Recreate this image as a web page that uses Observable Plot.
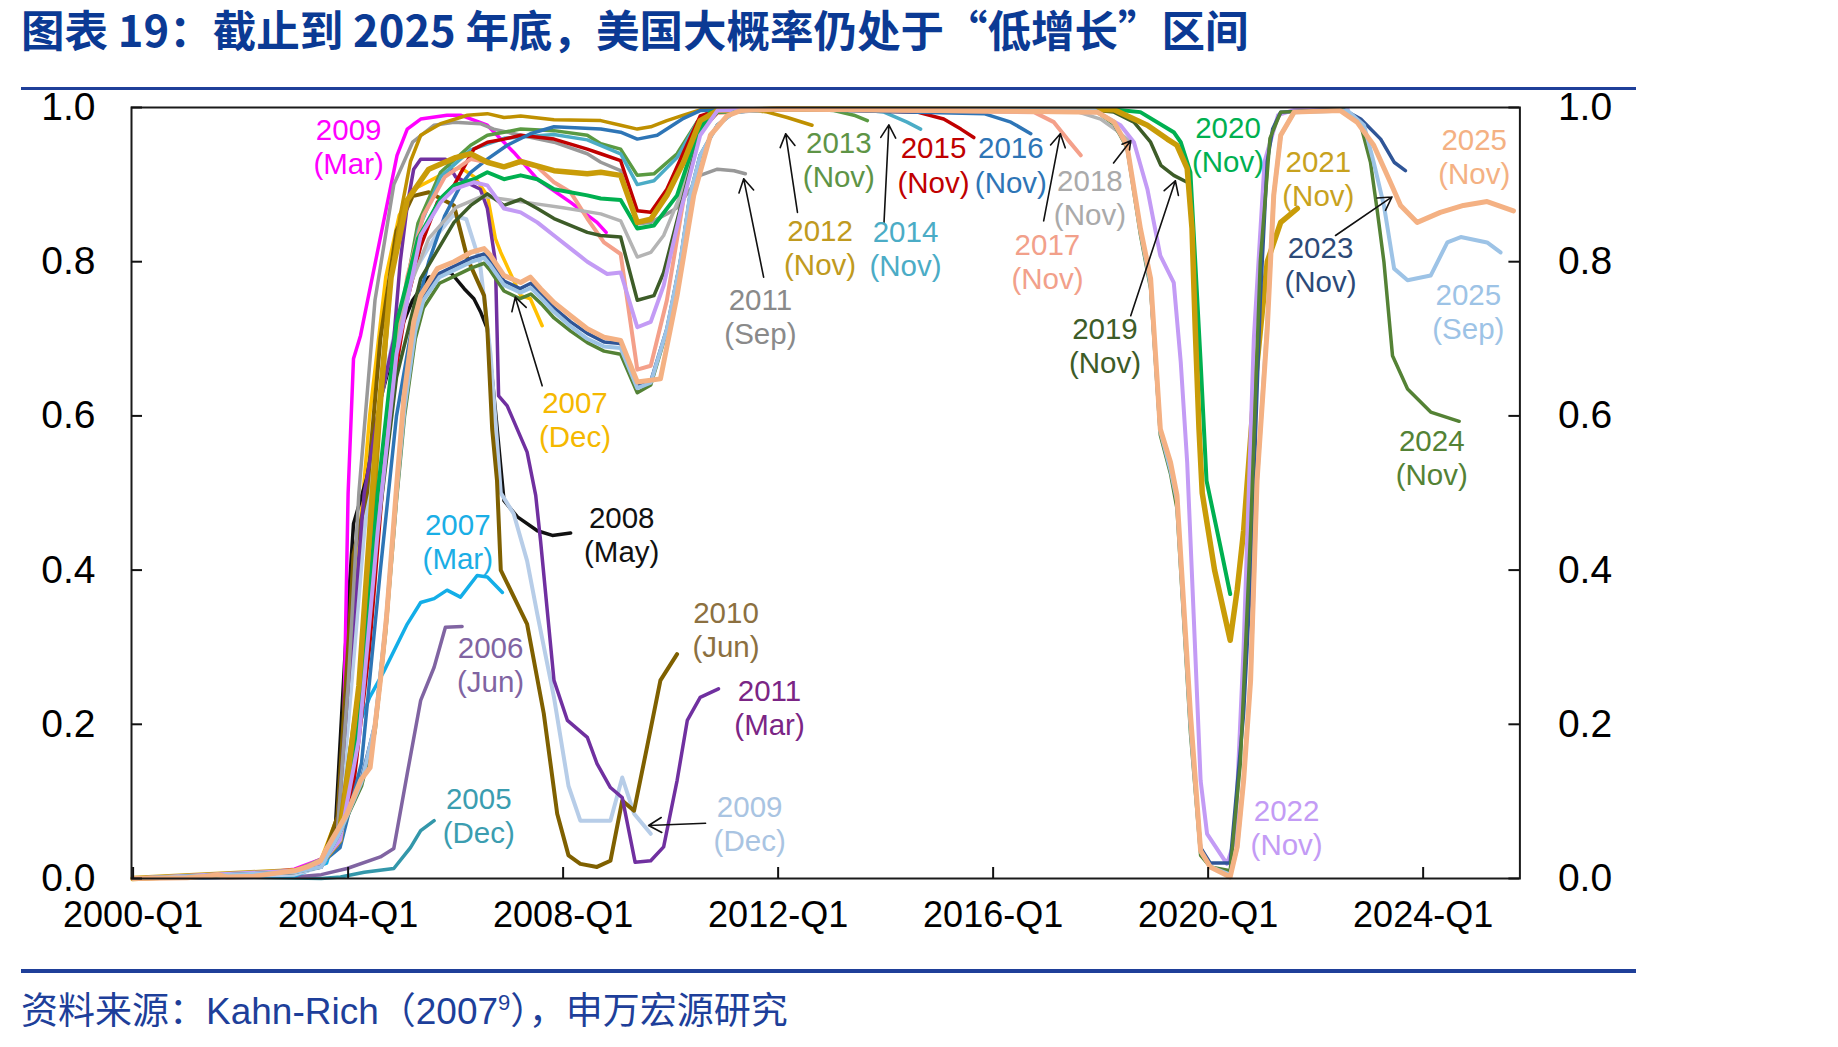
<!DOCTYPE html>
<html><head><meta charset="utf-8">
<script src="https://cdn.jsdelivr.net/npm/d3@7"></script>
<script src="https://cdn.jsdelivr.net/npm/@observablehq/plot@0.6"></script>
<style>
body{margin:0;background:#fff;width:1838px;height:1047px;position:relative;overflow:hidden;font-family:"Liberation Sans",Arial,sans-serif;}
#title{position:absolute;left:21px;top:0;height:58px;line-height:58px;font-family:"Noto Sans CJK SC",sans-serif;font-weight:700;font-size:43.5px;color:#0b3a94;white-space:nowrap;}
.rule{position:absolute;left:21px;width:1615px;height:3.5px;background:#1f3f99;}
#chart{position:absolute;left:0;top:92px;}
#chart svg{overflow:visible;}
#source{position:absolute;left:21px;top:988px;font-family:"Liberation Sans","Noto Sans CJK SC",sans-serif;font-size:37px;color:#1e3f9a;white-space:nowrap;line-height:48px;}
#source sup{font-size:22px;vertical-align:14px;line-height:0;}
</style></head><body>
<div id="title">图表 19：截止到 2025 年底，美国大概率仍处于“低增长”区间</div>
<div class="rule" style="top:86.5px"></div>
<div id="chart"></div>
<div class="rule" style="top:969px"></div>
<div id="source">资料来源：Kahn-Rich（2007<sup>9</sup>），申万宏源研究</div>
<script>
// ---------- tick values ----------
const xTicks = [2000, 2004, 2008, 2012, 2016, 2020, 2024];
const yTicks = [0, 0.2, 0.4, 0.6, 0.8, 1.0];

// ---------- series: [year (decimal, quarter), probability] ----------
const s2005Dec = [[2000,0],[2002,0.002],[2003.5,0.0],[2003.86,0.002],[2004.3,0.008],[2004.85,0.013],[2005.16,0.04],[2005.35,0.062],[2005.6,0.075]];
const s2006Jun = [[2000,0],[2003,0.002],[2003.5,0.005],[2003.98,0.013],[2004.6,0.028],[2004.85,0.039],[2005.1,0.136],[2005.35,0.231],[2005.6,0.274],[2005.81,0.326],[2006.12,0.327]];
const s2007Mar = [[2000,0],[2003,0.003],[2003.6,0.02],[2003.85,0.08],[2004.04,0.17],[2004.4,0.235],[2004.66,0.268],[2005.1,0.33],[2005.35,0.358],[2005.6,0.363],[2005.84,0.374],[2006.09,0.365],[2006.4,0.393],[2006.59,0.391],[2006.87,0.371]];
const s2007Dec = [[2000,0],[2003,0.01],[2003.5,0.025],[2003.8,0.08],[2004.1,0.35],[2004.4,0.6],[2004.7,0.78],[2004.95,0.86],[2005.22,0.894],[2005.66,0.91],[2005.91,0.918],[2006.09,0.922],[2006.35,0.91],[2006.59,0.886],[2006.74,0.83],[2006.84,0.812],[2007.21,0.756],[2007.39,0.752],[2007.61,0.717]];
const s2008May = [[2000,0],[2003,0.01],[2003.5,0.015],[2003.75,0.05],[2003.95,0.3],[2004.1,0.46],[2004.35,0.52],[2004.6,0.62],[2004.9,0.7],[2005.2,0.75],[2005.5,0.78],[2005.91,0.786],[2006.16,0.765],[2006.34,0.752],[2006.47,0.734],[2006.59,0.713],[2006.75,0.6],[2006.9,0.49],[2007.15,0.469],[2007.52,0.451],[2007.8,0.445],[2008.14,0.448]];
const s2009Mar = [[2000,0],[2002.5,0.008],[2003,0.012],[2003.5,0.025],[2003.8,0.04],[2003.92,0.2],[2004.0,0.5],[2004.1,0.674],[2004.23,0.704],[2004.91,0.938],[2005.1,0.972],[2005.35,0.985],[2005.84,0.99],[2006.09,0.99],[2006.59,0.977],[2007.08,0.942],[2007.52,0.907],[2008.14,0.877],[2008.63,0.851],[2008.8,0.838]];
const s2009Dec = [[2000,0],[2003,0.005],[2003.5,0.015],[2003.8,0.05],[2004.0,0.2],[2004.3,0.45],[2004.6,0.62],[2004.9,0.72],[2005.25,0.79],[2005.6,0.83],[2005.95,0.86],[2006.2,0.855],[2006.45,0.8],[2006.65,0.68],[2006.84,0.5],[2007.08,0.473],[2007.33,0.412],[2007.52,0.343],[2007.83,0.235],[2008.1,0.12],[2008.32,0.075],[2008.88,0.075],[2009.1,0.131],[2009.32,0.084],[2009.63,0.058]];
const s2010Jun = [[2000,0],[2003,0.008],[2003.5,0.02],[2003.8,0.08],[2004.0,0.3],[2004.1,0.42],[2004.35,0.5],[2004.6,0.7],[2004.9,0.84],[2005.2,0.885],[2005.5,0.89],[2005.97,0.873],[2006.22,0.804],[2006.53,0.756],[2006.59,0.713],[2006.68,0.583],[2006.77,0.516],[2006.84,0.4],[2007.33,0.33],[2007.64,0.214],[2007.89,0.084],[2008.1,0.03],[2008.32,0.019],[2008.63,0.015],[2008.88,0.023],[2009.1,0.101],[2009.32,0.088],[2009.56,0.17],[2009.81,0.257],[2010.12,0.291]];
const s2011Mar = [[2000,0],[2003,0.008],[2003.5,0.02],[2003.8,0.06],[2004.0,0.25],[2004.3,0.5],[2004.6,0.62],[2004.85,0.7],[2004.97,0.8],[2005.1,0.873],[2005.22,0.92],[2005.35,0.933],[2005.81,0.933],[2006.0,0.91],[2006.46,0.894],[2006.59,0.869],[2006.74,0.8],[2006.8,0.626],[2006.96,0.613],[2007.33,0.553],[2007.49,0.497],[2007.58,0.438],[2007.83,0.257],[2008.08,0.205],[2008.45,0.183],[2008.63,0.149],[2008.88,0.118],[2009.1,0.105],[2009.34,0.021],[2009.63,0.023],[2009.87,0.041],[2010.12,0.127],[2010.31,0.205],[2010.55,0.235],[2010.89,0.246]];
const s2011Sep = [[2000,0],[2003,0.01],[2003.5,0.025],[2003.8,0.06],[2004.0,0.25],[2004.2,0.5],[2004.5,0.75],[2004.85,0.9],[2005.2,0.955],[2005.6,0.977],[2005.97,0.981],[2006.46,0.979],[2006.71,0.972],[2007.21,0.964],[2007.83,0.955],[2008.45,0.94],[2008.7,0.929],[2009.07,0.918],[2009.38,0.849],[2009.63,0.851],[2009.93,0.862],[2010.12,0.87],[2010.55,0.912],[2010.87,0.92],[2011.18,0.918],[2011.39,0.914]];
const s2012Nov = [[2000,0],[2003,0.01],[2003.5,0.02],[2003.8,0.05],[2004.0,0.15],[2004.3,0.3],[2004.6,0.6],[2004.8,0.78],[2004.97,0.86],[2005.16,0.93],[2005.35,0.964],[2005.72,0.979],[2006.22,0.99],[2006.59,0.992],[2006.9,0.987],[2007.21,0.989],[2007.83,0.984],[2008.7,0.983],[2009.07,0.977],[2009.38,0.972],[2009.63,0.975],[2009.93,0.983],[2010.24,0.99],[2010.55,0.997],[2011.0,0.998],[2011.5,0.997],[2011.8,0.994],[2012.17,0.987],[2012.63,0.977]];
const s2013Nov = [[2000,0],[2003,0.01],[2003.5,0.02],[2003.85,0.05],[2004.1,0.15],[2004.5,0.45],[2004.9,0.7],[2005.3,0.85],[2005.72,0.916],[2006.28,0.951],[2006.59,0.964],[2006.9,0.968],[2007.21,0.972],[2007.83,0.97],[2008.45,0.964],[2008.7,0.953],[2009.07,0.946],[2009.38,0.912],[2009.69,0.914],[2010.12,0.94],[2010.49,0.981],[2010.74,0.996],[2011.5,0.998],[2012.5,0.998],[2013.04,0.996],[2013.41,0.99],[2013.66,0.983]];
const s2014Nov = [[2000,0],[2003,0.01],[2003.5,0.02],[2003.85,0.05],[2004.1,0.14],[2004.5,0.42],[2004.9,0.68],[2005.3,0.84],[2005.72,0.91],[2006.28,0.945],[2006.9,0.96],[2007.83,0.965],[2008.45,0.958],[2009.07,0.94],[2009.38,0.9],[2009.69,0.905],[2010.12,0.935],[2010.49,0.98],[2010.8,0.996],[2012.0,0.998],[2013.5,0.997],[2013.97,0.994],[2014.4,0.981],[2014.65,0.972]];
const s2015Nov = [[2000,0],[2003,0.01],[2003.5,0.02],[2003.85,0.05],[2004.1,0.12],[2004.4,0.3],[2004.75,0.6],[2005.1,0.75],[2005.35,0.82],[2005.66,0.877],[2005.97,0.899],[2006.34,0.946],[2006.59,0.955],[2006.9,0.959],[2007.21,0.964],[2007.83,0.959],[2008.45,0.946],[2008.7,0.94],[2009.07,0.931],[2009.38,0.866],[2009.63,0.864],[2009.93,0.894],[2010.3,0.951],[2010.55,0.989],[2010.9,0.997],[2012.5,0.998],[2014.59,0.994],[2015.08,0.985],[2015.4,0.972],[2015.64,0.961]];
const s2016Nov = [[2000,0],[2003,0.01],[2003.5,0.02],[2003.85,0.04],[2004.25,0.15],[2004.6,0.4],[2004.9,0.6],[2005.2,0.72],[2005.5,0.8],[2005.8,0.86],[2006.1,0.9],[2006.28,0.916],[2006.59,0.933],[2006.96,0.951],[2007.39,0.966],[2007.83,0.975],[2008.7,0.972],[2009.07,0.968],[2009.38,0.959],[2009.75,0.964],[2010.24,0.986],[2010.55,0.996],[2012.0,0.998],[2015.83,0.992],[2016.33,0.981],[2016.7,0.966]];
const s2017Nov = [[2000,0],[2003,0.01],[2003.5,0.02],[2003.85,0.05],[2004.2,0.2],[2004.5,0.45],[2004.8,0.65],[2005.1,0.78],[2005.4,0.86],[2005.8,0.91],[2006.28,0.933],[2006.59,0.929],[2006.9,0.923],[2007.21,0.929],[2007.52,0.923],[2007.83,0.903],[2008.14,0.89],[2008.45,0.856],[2008.76,0.825],[2009.07,0.81],[2009.38,0.66],[2009.63,0.665],[2009.93,0.75],[2010.24,0.88],[2010.55,0.97],[2010.87,0.993],[2012.0,0.998],[2016.76,0.994],[2017.13,0.981],[2017.38,0.959],[2017.63,0.938]];
const s2018Nov = [[2000,0],[2003,0.01],[2003.5,0.02],[2003.85,0.05],[2004.2,0.2],[2004.5,0.45],[2004.8,0.65],[2005.1,0.76],[2005.5,0.83],[2006.0,0.87],[2006.5,0.885],[2007.0,0.88],[2007.5,0.875],[2008.0,0.87],[2008.7,0.862],[2009.07,0.853],[2009.38,0.806],[2009.63,0.812],[2009.87,0.834],[2010.18,0.886],[2010.55,0.972],[2010.87,0.994],[2012.0,0.998],[2017.5,0.996],[2018.0,0.985],[2018.3,0.97],[2018.56,0.955]];
const s2019Nov = [[2000,0],[2003,0.01],[2003.5,0.02],[2003.85,0.05],[2004.2,0.2],[2004.55,0.45],[2004.9,0.65],[2005.35,0.778],[2005.97,0.851],[2006.28,0.873],[2006.59,0.888],[2006.9,0.873],[2007.21,0.881],[2007.52,0.869],[2007.83,0.856],[2008.45,0.838],[2008.7,0.834],[2009.07,0.832],[2009.38,0.75],[2009.69,0.756],[2009.87,0.786],[2010.24,0.886],[2010.55,0.968],[2010.87,0.994],[2012.0,0.998],[2017.8,0.997],[2018.25,0.994],[2018.62,0.981],[2018.93,0.955],[2019.12,0.925],[2019.36,0.912],[2019.61,0.903]];
const s2020Nov = [[2000,0],[2003,0.01],[2003.5,0.02],[2003.85,0.05],[2004.2,0.2],[2004.55,0.5],[2004.9,0.72],[2005.3,0.83],[2005.72,0.882],[2005.97,0.899],[2006.34,0.907],[2006.59,0.916],[2006.9,0.907],[2007.21,0.912],[2007.52,0.907],[2007.83,0.894],[2008.45,0.886],[2008.7,0.882],[2009.07,0.88],[2009.38,0.843],[2009.69,0.847],[2010.12,0.886],[2010.49,0.964],[2010.74,0.994],[2012.0,0.998],[2018.3,0.997],[2018.74,0.994],[2019.36,0.968],[2019.49,0.955],[2019.67,0.916],[2019.76,0.8],[2019.86,0.67],[2019.97,0.516],[2020.23,0.43],[2020.41,0.369]];
const s2021Nov = [[2000,0],[2003,0.01],[2003.5,0.02],[2003.85,0.05],[2004.2,0.25],[2004.5,0.55],[2004.8,0.78],[2005.1,0.88],[2005.5,0.92],[2006.0,0.935],[2006.28,0.94],[2006.59,0.929],[2006.9,0.923],[2007.21,0.93],[2007.83,0.918],[2008.45,0.914],[2008.7,0.916],[2009.07,0.912],[2009.38,0.851],[2009.63,0.855],[2009.93,0.886],[2010.24,0.929],[2010.55,0.983],[2010.87,0.996],[2012.0,0.998],[2018.25,0.997],[2018.87,0.977],[2019.24,0.959],[2019.42,0.951],[2019.61,0.921],[2019.7,0.843],[2019.76,0.713],[2019.83,0.583],[2019.89,0.5],[2020.12,0.4],[2020.41,0.309],[2020.54,0.374],[2020.66,0.451],[2020.73,0.516],[2020.85,0.626],[2021.1,0.8],[2021.35,0.851],[2021.66,0.869]];
const s2022Nov = [[2000,0],[2003,0.01],[2003.5,0.02],[2003.85,0.05],[2004.2,0.18],[2004.55,0.45],[2004.9,0.68],[2005.35,0.834],[2005.72,0.877],[2005.97,0.894],[2006.34,0.903],[2006.59,0.899],[2006.9,0.869],[2007.21,0.864],[2007.52,0.851],[2007.83,0.834],[2008.14,0.817],[2008.45,0.8],[2008.82,0.784],[2009.07,0.786],[2009.38,0.715],[2009.63,0.722],[2009.87,0.769],[2010.18,0.864],[2010.55,0.964],[2010.87,0.996],[2012.0,0.998],[2017.94,0.994],[2018.37,0.977],[2018.62,0.955],[2018.87,0.894],[2019.11,0.808],[2019.36,0.773],[2019.49,0.67],[2019.61,0.54],[2019.73,0.343],[2019.86,0.127],[2019.98,0.058],[2020.35,0.019],[2020.5,0.05],[2020.66,0.3],[2020.85,0.7],[2021.05,0.93],[2021.3,0.99],[2021.6,0.997],[2022.6,0.997]];
const s2023Nov = [[2000,0],[2003,0.008],[2003.5,0.015],[2003.85,0.06],[2004.25,0.13],[2004.5,0.2],[2004.7,0.33],[2004.9,0.5],[2005.05,0.62],[2005.25,0.72],[2005.4,0.755],[2005.7,0.785],[2006.0,0.795],[2006.3,0.805],[2006.53,0.81],[2006.65,0.8],[2006.9,0.775],[2007.2,0.765],[2007.4,0.772],[2007.6,0.758],[2007.83,0.74],[2008.14,0.722],[2008.45,0.707],[2008.76,0.696],[2009.07,0.694],[2009.38,0.64],[2009.63,0.645],[2009.93,0.713],[2010.18,0.8],[2010.36,0.886],[2010.55,0.938],[2010.87,0.977],[2011.18,0.994],[2012,0.998],[2017.9,0.996],[2018.25,0.98],[2018.49,0.95],[2018.74,0.84],[2018.93,0.77],[2019.11,0.58],[2019.3,0.53],[2019.42,0.49],[2019.67,0.2],[2019.86,0.04],[2020.04,0.02],[2020.41,0.02],[2020.66,0.214],[2020.79,0.387],[2020.85,0.516],[2020.97,0.75],[2021.1,0.93],[2021.2,0.972],[2021.35,0.994],[2022.5,0.998],[2022.84,0.985],[2023.21,0.959],[2023.46,0.929],[2023.67,0.918]];
const s2024Nov = [[2000,0],[2003,0.008],[2003.5,0.015],[2003.85,0.06],[2004.25,0.12],[2004.5,0.19],[2004.7,0.32],[2004.9,0.49],[2005.05,0.6],[2005.25,0.7],[2005.4,0.74],[2005.7,0.772],[2006.0,0.782],[2006.3,0.792],[2006.53,0.798],[2006.65,0.788],[2006.9,0.762],[2007.2,0.752],[2007.4,0.758],[2007.6,0.745],[2007.83,0.727],[2008.14,0.71],[2008.45,0.695],[2008.76,0.684],[2009.07,0.68],[2009.38,0.63],[2009.63,0.64],[2009.93,0.71],[2010.18,0.8],[2010.36,0.885],[2010.55,0.938],[2010.87,0.977],[2011.18,0.994],[2012,0.998],[2017.9,0.996],[2018.25,0.978],[2018.49,0.948],[2018.74,0.835],[2018.93,0.765],[2019.11,0.575],[2019.3,0.525],[2019.42,0.48],[2019.67,0.19],[2019.86,0.03],[2020.04,0.015],[2020.41,0.01],[2020.6,0.15],[2020.79,0.45],[2020.97,0.8],[2021.15,0.96],[2021.35,0.994],[2022.52,0.997],[2022.84,0.977],[2023.02,0.929],[2023.15,0.864],[2023.27,0.8],[2023.43,0.678],[2023.71,0.635],[2024.14,0.605],[2024.67,0.593]];
const s2025Sep = [[2000,0],[2003,0.008],[2003.5,0.015],[2003.85,0.06],[2004.25,0.125],[2004.5,0.2],[2004.7,0.33],[2004.9,0.5],[2005.05,0.61],[2005.25,0.71],[2005.4,0.75],[2005.7,0.78],[2006.0,0.79],[2006.3,0.8],[2006.53,0.805],[2006.65,0.795],[2006.9,0.77],[2007.2,0.76],[2007.4,0.766],[2007.6,0.752],[2007.83,0.735],[2008.14,0.716],[2008.45,0.7],[2008.76,0.69],[2009.07,0.688],[2009.38,0.636],[2009.63,0.643],[2009.93,0.712],[2010.18,0.8],[2010.36,0.886],[2010.55,0.938],[2010.87,0.977],[2011.18,0.994],[2012,0.998],[2017.9,0.996],[2018.25,0.98],[2018.49,0.95],[2018.74,0.84],[2018.93,0.77],[2019.11,0.58],[2019.3,0.53],[2019.42,0.49],[2019.67,0.2],[2019.86,0.035],[2020.04,0.015],[2020.41,0.005],[2020.54,0.04],[2020.66,0.13],[2020.79,0.26],[2020.91,0.516],[2021.1,0.72],[2021.22,0.886],[2021.35,0.964],[2021.6,0.994],[2022.59,0.996],[2022.9,0.977],[2023.08,0.929],[2023.27,0.873],[2023.46,0.791],[2023.71,0.776],[2024.14,0.782],[2024.45,0.825],[2024.7,0.832],[2025.19,0.825],[2025.44,0.812]];
const s2025Nov = [[2000,0],[2001.0,0.001],[2001.38,0.003],[2001.57,0.005],[2001.75,0.002],[2002.25,0.003],[2002.56,0.006],[2003.0,0.01],[2003.24,0.015],[2003.49,0.023],[2003.61,0.04],[2003.98,0.084],[2004.23,0.127],[2004.41,0.144],[2004.6,0.257],[2004.72,0.343],[2004.91,0.516],[2005.04,0.626],[2005.22,0.722],[2005.35,0.756],[2005.66,0.791],[2005.97,0.8],[2006.28,0.812],[2006.53,0.817],[2006.65,0.808],[2006.9,0.782],[2007.21,0.773],[2007.39,0.78],[2007.58,0.765],[2007.83,0.747],[2008.14,0.73],[2008.45,0.713],[2008.76,0.702],[2009.07,0.698],[2009.38,0.644],[2009.81,0.648],[2010.12,0.756],[2010.43,0.886],[2010.74,0.964],[2011.05,0.989],[2011.3,0.996],[2012,0.998],[2017.94,0.994],[2018.25,0.981],[2018.49,0.951],[2018.74,0.843],[2018.93,0.778],[2019.11,0.583],[2019.3,0.54],[2019.42,0.497],[2019.67,0.214],[2019.86,0.036],[2020.04,0.015],[2020.41,0.002],[2020.54,0.041],[2020.66,0.127],[2020.79,0.257],[2020.91,0.516],[2021.1,0.713],[2021.22,0.886],[2021.35,0.964],[2021.6,0.994],[2022.46,0.996],[2022.77,0.981],[2023.08,0.951],[2023.39,0.903],[2023.58,0.873],[2023.89,0.851],[2024.32,0.864],[2024.75,0.873],[2025.19,0.878],[2025.68,0.866]];

// vintage names
const vintages = ["2005 (Dec)","2006 (Jun)","2007 (Mar)","2007 (Dec)","2008 (May)","2009 (Mar)","2009 (Dec)","2010 (Jun)","2011 (Mar)","2011 (Sep)","2012 (Nov)","2013 (Nov)","2014 (Nov)","2015 (Nov)","2016 (Nov)","2017 (Nov)","2018 (Nov)","2019 (Nov)","2020 (Nov)","2021 (Nov)","2022 (Nov)","2023 (Nov)","2024 (Nov)","2025 (Sep)","2025 (Nov)"];
const seriesData = [s2005Dec,s2006Jun,s2007Mar,s2007Dec,s2008May,s2009Mar,s2009Dec,s2010Jun,s2011Mar,s2011Sep,s2012Nov,s2013Nov,s2014Nov,s2015Nov,s2016Nov,s2017Nov,s2018Nov,s2019Nov,s2020Nov,s2021Nov,s2022Nov,s2023Nov,s2024Nov,s2025Sep,s2025Nov];

// ---------- styles (kept apart from the data) ----------
const lineColors = ["#3397aa","#8064a2","#13aee8","#ffc000","#111111","#ff00ff","#b7cde8","#7f6000","#7030a0","#999999","#bf9000","#5a9a42","#4bacc6","#c00000","#2e75b6","#f4a08a","#b4b4b4","#3d5c28","#00b050","#c99c08","#c39bf5","#2f5597","#548235","#9dc3e6","#f4b183"];
const labelColors = ["#3b9db0","#8064a2","#1aaee6","#f5b800","#111111","#ff00ff","#a9c4e2","#8c7040","#7b2585","#8a8a8a","#c09a20","#5e9446","#4bacc6","#c00000","#2e75b6","#f2a08a","#aaaaaa","#3d5c28","#00b050","#c8a21e","#c39bf5","#2c4a78","#548235","#9dc3e6","#f4b183"];
const lineWidths = [3.5,3.5,3.5,3.5,3.5,3.5,4,4,3.5,3.5,3.5,3.5,3.5,3.5,3.5,4,3.5,3.5,4,5.5,4,3.5,3.5,4,5];

// ---------- annotation positions (data coordinates) ----------
const labelPos = [[2006.43,0.082],[2006.65,0.278],[2006.04,0.438],[2008.22,0.596],[2009.09,0.447],[2004.01,0.950],[2011.47,0.0715],[2011.03,0.324],[2011.84,0.222],[2011.67,0.730],[2012.78,0.8195],[2013.13,0.9335],[2014.37,0.818],[2014.89,0.926],[2016.33,0.926],[2017.01,0.801],[2017.80,0.884],[2018.08,0.692],[2020.37,0.953],[2022.05,0.908],[2021.46,0.067],[2022.09,0.797],[2024.16,0.547],[2024.84,0.736],[2024.95,0.937]];
const arrowPos = [
  [2007.61,0.639,2007.11,0.754],
  [2011.73,0.780,2011.36,0.9075],
  [2012.36,0.864,2012.14,0.966],
  [2013.97,0.851,2014.06,0.9775],
  [2016.94,0.853,2017.25,0.966],
  [2018.24,0.928,2018.56,0.957],
  [2018.56,0.730,2019.39,0.905],
  [2022.37,0.834,2023.42,0.884],
  [2010.65,0.0717,2009.59,0.0687]
];

const W = 1838, H = 870, mL = 131, mR = 318.6, mT = 15, mB = 84;
const innerW = W - mL - mR, innerH = H - mT - mB;
const fmtY = d3.format(".1f");

const lineMarks = seriesData.map((pts, i) => Plot.line(pts, {
  x: d => d[0], y: d => d[1], stroke: lineColors[i], strokeWidth: lineWidths[i],
  strokeLinejoin: "round", strokeLinecap: "round"
}));
const labelMarks = vintages.map((name, i) => Plot.text([labelPos[i]], {
  x: d => d[0], y: d => d[1], text: () => name.replace(" ", "\n"),
  fill: labelColors[i], fontSize: 29.5, lineHeight: 1.16, textAnchor: "middle"
}));

const chart = Plot.plot({
  width: W, height: H,
  marginLeft: mL, marginRight: mR, marginTop: mT, marginBottom: mB,
  x: {domain: [1999.97, 2025.8]},
  y: {domain: [0, 1]},
  style: {fontFamily: "'Liberation Sans', Arial, sans-serif", color: "#000", background: "transparent", overflow: "visible"},
  marks: [
    ...lineMarks,
    Plot.frame({stroke: "#1a1a1a", strokeWidth: 2}),
    Plot.ruleY(yTicks, {y: d => d, insetRight: innerW - 11, stroke: "#111", strokeWidth: 2}),
    Plot.ruleY(yTicks, {y: d => d, insetLeft: innerW - 11, stroke: "#111", strokeWidth: 2}),
    Plot.ruleX(xTicks, {x: d => d, insetTop: innerH - 11, stroke: "#111", strokeWidth: 2}),
    Plot.axisY({anchor: "left", ticks: yTicks, tickSize: 0, tickPadding: 36, tickFormat: fmtY, fontSize: 39, label: null}),
    Plot.axisY({anchor: "right", ticks: yTicks, tickSize: 0, tickPadding: 38, tickFormat: fmtY, fontSize: 39, label: null}),
    Plot.axisX({ticks: xTicks, tickSize: 0, tickPadding: 23, tickFormat: d => `${d}-Q1`, fontSize: 36, label: null}),
    Plot.arrow(arrowPos, {x1: d => d[0], y1: d => d[1], x2: d => d[2], y2: d => d[3], stroke: "#111", strokeWidth: 1.6, headLength: 14}),
    ...labelMarks
  ]
});
document.getElementById("chart").appendChild(chart);
</script>
</body></html>
